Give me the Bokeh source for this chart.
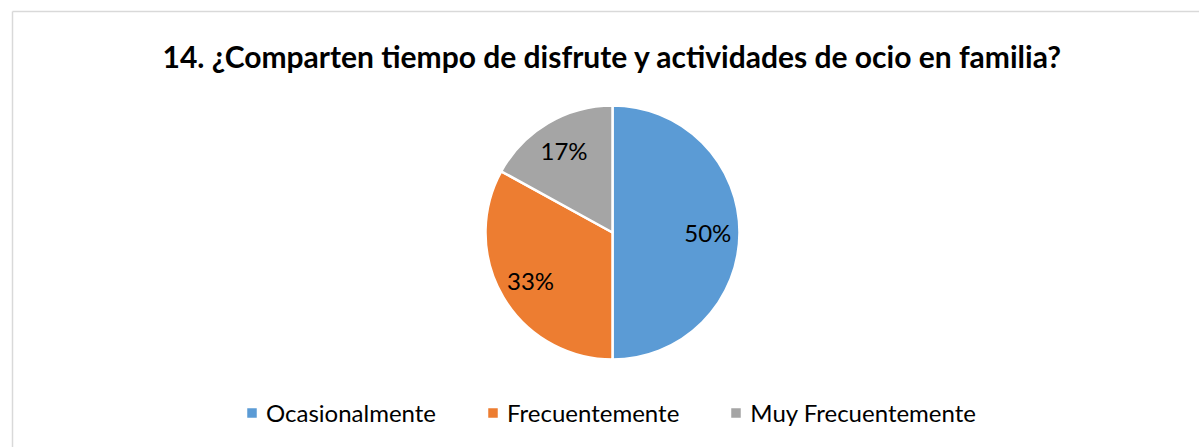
import math
from bokeh.plotting import figure
from bokeh.models import ColumnDataSource, Legend, LegendItem, Range1d
from bokeh.core.properties import value
from bokeh.embed import file_html
from bokeh.resources import INLINE

title_text = "14. ¿Comparten tiempo de disfrute y actividades de ocio en familia?"
categories = ["Ocasionalmente", "Frecuentemente", "Muy Frecuentemente"]
percents = [50, 33, 17]
colors = ["#5b9bd5", "#ed7d31", "#a5a5a5"]

W, H = 1199, 447
FONT = "Lato"

p = figure(width=W, height=H, output_backend="svg", toolbar_location=None,
           x_range=Range1d(0, W), y_range=Range1d(0, H), min_border=0)
p.axis.visible = False
p.grid.visible = False
p.outline_line_color = None
p.background_fill_color = "white"
p.border_fill_color = "white"

# chart frame (left and top edges visible)
p.segment(x0=[12, 12], y0=[0, 436], x1=[12, W], y1=[436, 436],
          line_color="#d9d9d9", line_width=1.5)

# pie
cx, cy, R = 612, 215, 127
total = sum(percents)
starts, ends, mids = [], [], []
cum = 0.0
for v in percents:
    a0 = math.pi / 2 - 2 * math.pi * cum / total
    cum += v
    a1 = math.pi / 2 - 2 * math.pi * cum / total
    starts.append(a0)
    ends.append(a1)
    mids.append((a0 + a1) / 2)

src = ColumnDataSource(dict(x=[cx] * 3, y=[cy] * 3, start=starts, end=ends,
                            color=colors, cat=categories))
wr = p.wedge(x="x", y="y", radius=R, radius_units="screen", start_angle="start",
             end_angle="end", direction="clock", fill_color="color",
             line_color="white", line_width=2.5, source=src)

lr = 0.75 * R
lx = [cx + lr * math.cos(m) for m in mids]
ly = [cy + lr * math.sin(m) for m in mids]
p.text(x=lx, y=ly, text=[f"{v}%" for v in percents], text_align="center",
       text_baseline="middle", text_font=value(FONT), text_font_size="24px",
       text_color="#000000")

# title
p.text(x=[612], y=[392], text=[title_text], text_align="center",
       text_baseline="middle", text_font=value(FONT), text_font_size="30px",
       text_font_style="bold", text_color="#000000")

# legend
items = [LegendItem(label=c, renderers=[wr], index=i) for i, c in enumerate(categories)]
leg = Legend(items=items, orientation="horizontal", location=(244, 20),
             glyph_width=15, glyph_height=15, label_standoff=7, spacing=49,
             label_text_font=FONT, label_text_font_size="24px",
             label_text_color="#000000", border_line_color=None,
             background_fill_alpha=0, padding=0, margin=0,
             label_height=24)
p.add_layout(leg, "center")

open("out.html", "w").write(file_html(p, INLINE))
